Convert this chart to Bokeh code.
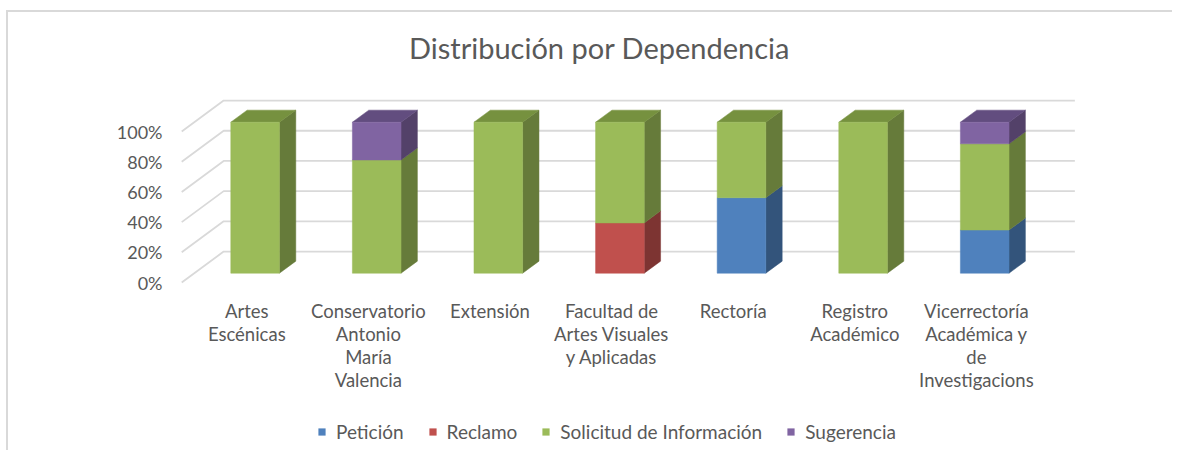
from bokeh.plotting import figure
from bokeh.layouts import column
from bokeh.models import (FixedTicker, PrintfTickFormatter, Legend, LegendItem,
                          ColumnDataSource)
from bokeh.core.properties import value
from bokeh.embed import file_html
from bokeh.resources import INLINE

# ---------------- data ----------------
dependencias = [
    "Artes\nEscénicas",
    "Conservatorio\nAntonio\nMaría\nValencia",
    "Extensión",
    "Facultad de\nArtes Visuales\ny Aplicadas",
    "Rectoría",
    "Registro\nAcadémico",
    "Vicerrectoría\nAcadémica y\nde\nInvestigacions",
]
peticion = [0, 0, 0, 0, 50.0, 0, 28.6]
reclamo = [0, 0, 0, 33.3, 0, 0, 0]
solicitud = [100, 75, 100, 66.7, 50, 100, 57.1]
sugerencia = [0, 25, 0, 0, 0, 0, 14.3]
series_names = ["Petición", "Reclamo", "Solicitud de Información", "Sugerencia"]
y_ticks = [0, 20, 40, 60, 80, 100]
title_text = "Distribución por Dependencia"

# ---------------- style ----------------
front_colors = ["#4F81BD", "#C0504D", "#9BBB59", "#8064A2"]
side_colors = ["#33547B", "#7D3432", "#667B3A", "#534169"]
top_colors = ["#3D6391", "#943D3B", "#76913F", "#624D7F"]
grid_color = "#D9D9D9"
text_color = "#595959"
FONT = "Lato"

# 3D geometry (data units: x in categories, y in percent)
FLOOR_X0 = -0.535     # front-left corner of floor
DX, DY = 0.345, 20.5  # depth vector of the floor
BAR_W = 0.40
T0, T1 = 0.30, 0.69   # bar front / back depth fractions

# layout of the main figure (pixels)
W, H = 1166, 393
BL, BR, BB = 172, 94, 118          # borders left / right / bottom (top = 0)
PX_CAT, PX_PCT = 121.6, 1.51
X0 = -0.545
Y0 = -3.31
frame_w, frame_h = W - BL - BR, H - BB
x_end = X0 + frame_w / PX_CAT
y_end = Y0 + frame_h / PX_PCT

p = figure(width=W, height=H, x_range=(X0, x_end), y_range=(Y0, y_end),
           output_backend="svg", toolbar_location=None,
           min_border_left=BL, min_border_right=BR, min_border_top=0,
           min_border_bottom=BB)
p.xgrid.visible = False
p.ygrid.visible = False
p.outline_line_color = None
p.background_fill_color = None
p.border_fill_color = None

# ---- 3D gridlines (side wall diagonals + back wall horizontals)
n = len(dependencias)
gx, gy = [], []
for t in y_ticks:
    gx.append([FLOOR_X0, FLOOR_X0 + DX, FLOOR_X0 + DX + n])
    gy.append([t, t + DY, t + DY])
p.multi_line(gx, gy, line_color=grid_color, line_width=1.8)

# ---- stacked 3D bars
series = [peticion, reclamo, solicitud, sugerencia]
cum = [0.0] * n
totals = [sum(s[i] for s in series) for i in range(n)]
ddx, ddy = (T1 - T0) * DX, (T1 - T0) * DY
for k, (name, vals) in enumerate(zip(series_names, series)):
    fx, fb, ft = [], [], []
    sxs, sys_ = [], []
    txs, tys = [], []
    for i, v in enumerate(vals):
        if v <= 0:
            continue
        b = cum[i] + T0 * DY
        t = cum[i] + v + T0 * DY
        cx = i + FLOOR_X0 + 0.5 + T0 * DX
        fx.append(cx); fb.append(b); ft.append(t)
        r = cx + BAR_W / 2
        l = cx - BAR_W / 2
        sxs.append([r, r + ddx, r + ddx, r])
        sys_.append([b, b + ddy, t + ddy, t])
        if abs(cum[i] + v - totals[i]) < 1e-6:
            txs.append([l, r, r + ddx, l + ddx])
            tys.append([t, t, t + ddy, t + ddy])
        cum[i] += v
    p.patches(sxs, sys_, fill_color=side_colors[k], line_color=side_colors[k], line_width=0.5)
    if txs:
        p.patches(txs, tys, fill_color=top_colors[k], line_color=top_colors[k], line_width=0.5)
    src = ColumnDataSource(dict(x=fx, bottom=fb, top=ft))
    p.vbar(x="x", bottom="bottom", top="top", width=BAR_W, source=src,
           fill_color=front_colors[k], line_color=front_colors[k], line_width=0.5)

# ---- title (inside the frame area, above the chart)
title_x = X0 + (591 - BL) / PX_CAT
title_y = y_end - 35 / PX_PCT
p.text(x=[title_x], y=[title_y], text=[title_text], text_align="center",
       text_baseline="middle", text_font=value(FONT), text_font_size="29px",
       text_color=text_color)

# ---- axes
ya = p.yaxis[0]
ya.ticker = FixedTicker(ticks=y_ticks)
ya.formatter = PrintfTickFormatter(format="%d%%")
ya.axis_line_color = None
ya.major_tick_line_color = None
ya.minor_tick_line_color = None
ya.major_tick_out = 0
ya.major_tick_in = 0
ya.major_label_standoff = 18
ya.major_label_text_font = FONT
ya.major_label_text_font_size = "18px"
ya.major_label_text_color = text_color

xa = p.xaxis[0]
xa.ticker = FixedTicker(ticks=list(range(n)))
xa.major_label_overrides = {i: lab for i, lab in enumerate(dependencias)}
xa.axis_line_color = None
xa.major_tick_line_color = None
xa.minor_tick_line_color = None
xa.major_tick_out = 0
xa.major_tick_in = 0
xa.major_label_standoff = 12
xa.major_label_text_font = FONT
xa.major_label_text_font_size = "18.5px"
xa.major_label_text_color = text_color
xa.major_label_text_line_height = 1.05

# ---- legend in its own strip below the chart
lg = figure(width=W, height=47, x_range=(0, 1), y_range=(0, 1),
            output_backend="svg", toolbar_location=None,
            x_axis_type=None, y_axis_type=None,
            min_border_left=0, min_border_right=0, min_border_top=0, min_border_bottom=0)
lg.xgrid.visible = False
lg.ygrid.visible = False
lg.outline_line_color = None
lg.background_fill_color = None
lg.border_fill_color = None
items = []
for k, name in enumerate(series_names):
    r = lg.vbar(x=[0.5], top=[0], bottom=[0], width=0.01, fill_color=front_colors[k],
                line_alpha=0)
    items.append(LegendItem(label=name, renderers=[r]))
legend = Legend(items=items, orientation="horizontal", location=(137, 9),
                glyph_width=9, glyph_height=9, label_standoff=10, spacing=24,
                label_text_font=FONT, label_text_font_size="19px",
                label_text_color=text_color, border_line_color=None,
                background_fill_alpha=0, padding=0, margin=0)
lg.add_layout(legend)

layout = column(p, lg, spacing=0,
                styles={"box-shadow": "-2px -2px 0 0 #D9D9D9",
                        "overflow": "visible",
                        "margin-left": "8px", "margin-top": "12px"})

open("out.html", "w").write(file_html(layout, INLINE))
